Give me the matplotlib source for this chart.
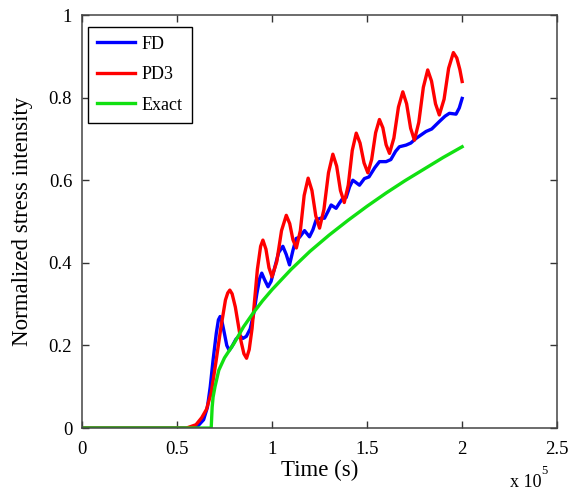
import matplotlib
matplotlib.use("Agg")
import matplotlib.pyplot as plt

plt.rcParams['font.family'] = ['Liberation Serif', 'DejaVu Serif']

# time in units of 1e5 s
t_fd = [0, 0.58, 0.61, 0.64, 0.66, 0.675, 0.69, 0.707, 0.718, 0.727, 0.738, 0.75,
        0.762, 0.775, 0.79, 0.81, 0.83, 0.847, 0.865, 0.885, 0.905, 0.92, 0.935,
        0.946, 0.96, 0.979, 0.995, 1.015, 1.035, 1.057, 1.075, 1.092, 1.11, 1.127,
        1.145, 1.171, 1.197, 1.215, 1.232, 1.255, 1.276, 1.295, 1.311, 1.337, 1.355,
        1.372, 1.39, 1.408, 1.425, 1.44, 1.46, 1.486, 1.51, 1.54, 1.565, 1.6, 1.625,
        1.65, 1.67, 1.705, 1.73, 1.757, 1.785, 1.81, 1.84, 1.88, 1.91, 1.933, 1.968,
        1.985, 2.0]
k_fd = [0, 0, 0.005, 0.02, 0.05, 0.1, 0.165, 0.23, 0.262, 0.27, 0.255, 0.228,
        0.2, 0.188, 0.198, 0.215, 0.224, 0.217, 0.222, 0.24, 0.28, 0.325, 0.362,
        0.375, 0.36, 0.342, 0.355, 0.39, 0.425, 0.44, 0.42, 0.395, 0.43, 0.459,
        0.462, 0.478, 0.463, 0.48, 0.504, 0.508, 0.508, 0.525, 0.54, 0.532, 0.545,
        0.556, 0.558, 0.584, 0.6, 0.595, 0.588, 0.604, 0.608, 0.63, 0.645, 0.645, 0.65,
        0.67, 0.681, 0.685, 0.69, 0.701, 0.71, 0.718, 0.724, 0.742, 0.755, 0.762, 0.76,
        0.775, 0.798]

t_pd3 = [0, 0.55, 0.60, 0.63, 0.655, 0.68, 0.705, 0.73, 0.755, 0.767, 0.778,
         0.79, 0.807, 0.837, 0.852, 0.866, 0.88, 0.895, 0.923, 0.94, 0.952, 0.968,
         0.984, 1.0, 1.025, 1.05, 1.075, 1.093, 1.11, 1.128, 1.149, 1.169, 1.19,
         1.21, 1.23, 1.25, 1.273, 1.297, 1.32, 1.34, 1.36, 1.38, 1.401, 1.422,
         1.443, 1.463, 1.484, 1.504, 1.524, 1.545, 1.565, 1.583, 1.6, 1.618, 1.641,
         1.665, 1.688, 1.708, 1.729, 1.749, 1.772, 1.796, 1.819, 1.839, 1.86, 1.88,
         1.905, 1.929, 1.954, 1.972, 1.988, 2.0]
k_pd3 = [0, 0, 0.008, 0.025, 0.045, 0.085, 0.16, 0.24, 0.31, 0.327, 0.334,
         0.325, 0.293, 0.21, 0.18, 0.169, 0.19, 0.241, 0.384, 0.44, 0.455, 0.433,
         0.388, 0.366, 0.403, 0.478, 0.515, 0.495, 0.456, 0.436, 0.478, 0.563, 0.605,
         0.575, 0.514, 0.484, 0.529, 0.618, 0.663, 0.634, 0.575, 0.546, 0.588, 0.672,
         0.714, 0.69, 0.642, 0.618, 0.65, 0.715, 0.747, 0.727, 0.686, 0.665, 0.702,
         0.777, 0.814, 0.785, 0.726, 0.697, 0.74, 0.825, 0.867, 0.84, 0.785, 0.758,
         0.796, 0.871, 0.909, 0.896, 0.868, 0.839]

t_exact = [0, 0.68, 0.685, 0.69, 0.70, 0.72, 0.75, 0.80, 0.85, 0.90, 0.95, 1.0,
           1.1, 1.2, 1.3, 1.4, 1.5, 1.6, 1.7, 1.8, 1.9, 2.0]
k_exact = [0, 0, 0.05, 0.075, 0.10, 0.14, 0.17, 0.205, 0.245, 0.278, 0.308, 0.335,
           0.384, 0.428, 0.467, 0.503, 0.537, 0.569, 0.599, 0.627, 0.655, 0.681]

xticks = [0, 0.5, 1, 1.5, 2, 2.5]
xtick_labels = ['0', '0.5', '1', '1.5', '2', '2.5']
yticks = [0, 0.2, 0.4, 0.6, 0.8, 1]
ytick_labels = ['0', '0.2', '0.4', '0.6', '0.8', '1']

fig = plt.figure(figsize=(5.81, 4.92), dpi=100)
ax = fig.add_axes([0.141, 0.130, 0.818, 0.8395])

lw = 2.4
ax.plot(t_fd, k_fd, color='#0000ff', lw=lw, label='FD')
ax.plot(t_pd3, k_pd3, color='#ff0000', lw=lw, label='PD3')
ax.plot(t_exact, k_exact, color='#11e011', lw=lw, label='Exact')

ax.set_xlim(0, 2.5)
ax.set_ylim(0, 1)
ax.set_xticks(xticks)
ax.set_xticklabels(xtick_labels)
ax.set_yticks(yticks)
ax.set_yticklabels(ytick_labels)
ax.tick_params(direction='in', length=5, width=1, top=True, right=True,
               labelsize=13.5, colors='#333333', labelcolor='black')
ax.tick_params(axis='x', pad=9)
ax.tick_params(axis='y', pad=7)
for s in ax.spines.values():
    s.set_color('#444444')
    s.set_linewidth(1.1)

ax.set_xlabel('Time (s)', fontsize=16.5, labelpad=2)
ax.set_ylabel('Normalized stress intensity', fontsize=16.5, labelpad=11)

leg = ax.legend(loc='upper left', bbox_to_anchor=(0.012, 0.972), fontsize=13,
                handlelength=2.1, labelspacing=0.75, borderpad=0.5,
                fancybox=False, edgecolor='black', framealpha=1,
                handletextpad=0.4, borderaxespad=0)
leg.get_frame().set_linewidth(1.0)

fig.text(0.877, 0.01, 'x 10', fontsize=13)
fig.text(0.932, 0.036, '5', fontsize=9)

fig.savefig('out.png', dpi=100)
